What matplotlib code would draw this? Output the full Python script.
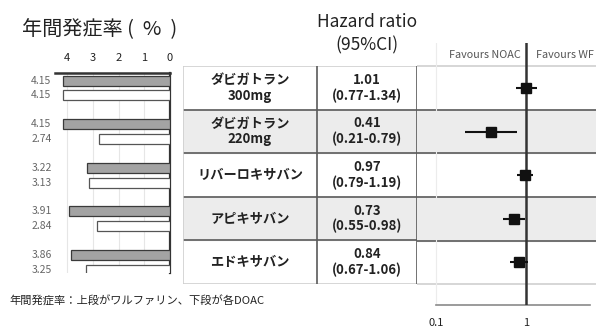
import matplotlib
matplotlib.use("Agg")
import matplotlib.pyplot as plt
import numpy as np

plt.rcParams['font.family'] = ['Noto Sans CJK JP', 'DejaVu Sans']

# 年間発症率 (%) : 上段ワルファリン, 下段DOAC
warfarin_rate = [4.15, 4.15, 3.22, 3.91, 3.86]
doac_rate = [4.15, 2.74, 3.13, 2.84, 3.25]
rate_ticks = [4, 3, 2, 1, 0]

drugs = ["ダビガトラン\n300mg", "ダビガトラン\n220mg", "リバーロキサバン",
         "アピキサバン", "エドキサバン"]
hr = [1.01, 0.41, 0.97, 0.73, 0.84]
hr_lo = [0.77, 0.21, 0.79, 0.55, 0.67]
hr_hi = [1.34, 0.79, 1.19, 0.98, 1.06]

W, H = 596, 330
fig = plt.figure(figsize=(W / 100, H / 100), dpi=100)


def px_axes(x0, y0, x1, y1):
    return fig.add_axes([x0 / W, 1 - y1 / H, (x1 - x0) / W, (y1 - y0) / H])


def row_of(ypx):
    # pixel row -> table row coordinate (row centres at 0..4)
    return (ypx - 88) / 43.6


rows = np.arange(len(drugs))
shade = '#ececec'
dark = '#5a5a5a'
light = '#cfcfcf'

# --- left: annual event rate bars ---
ax_b = px_axes(55, 73, 170, 273)
ax_b.barh(rows - 0.17, warfarin_rate, height=0.23, color='#a3a3a3',
          edgecolor='#3a3a3a', linewidth=0.9, zorder=3)
ax_b.barh(rows + 0.17, doac_rate, height=0.23, color='white',
          edgecolor='#555555', linewidth=0.9, zorder=3)
ax_b.set_xlim(115 / 25.75, 0)
ax_b.set_ylim(row_of(273), row_of(73))
ax_b.xaxis.tick_top()
ax_b.set_xticks(rate_ticks)
ax_b.set_xticklabels([str(t) for t in rate_ticks], fontsize=8, color='#222222')
ax_b.tick_params(axis='x', length=0, pad=7)
ax_b.set_yticks([])
ax_b.grid(axis='x', color='#e6e6e6', linewidth=0.8, zorder=0)
for s in ('left', 'bottom'):
    ax_b.spines[s].set_visible(False)
ax_b.spines['top'].set_linewidth(1.8)
ax_b.spines['top'].set_color('#333333')
ax_b.spines['right'].set_linewidth(1.6)
ax_b.spines['right'].set_color('#333333')
for i in rows:
    ax_b.text(-0.03, i - 0.17, f"{warfarin_rate[i]:.2f}", transform=ax_b.get_yaxis_transform(),
              ha='right', va='center', fontsize=7.5, color='#666666')
    ax_b.text(-0.03, i + 0.17, f"{doac_rate[i]:.2f}", transform=ax_b.get_yaxis_transform(),
              ha='right', va='center', fontsize=7.5, color='#666666')

# --- middle: table of drug names and HR (95%CI) ---
ax_t = px_axes(183, 66, 417, 284)
ax_t.set_xlim(0, 1)
ax_t.set_ylim(4.5, -0.5)
ax_t.axis('off')
split = (317 - 183) / (417 - 183)
for i in (1, 3):
    ax_t.axhspan(i - 0.5, i + 0.5, color=shade, zorder=0)
for y in (0.5, 1.5, 2.5, 3.5):
    ax_t.axhline(y, color=dark, linewidth=1.2)
ax_t.axhline(-0.5, color=light, linewidth=1.2)
ax_t.axhline(4.5, color=light, linewidth=1.2)
ax_t.axvline(0, color=light, linewidth=1.2)
ax_t.axvline(split, color=dark, linewidth=1.2)
ax_t.axvline(1, color=dark, linewidth=1.2)
for i in rows:
    ax_t.text(split / 2, i, drugs[i], ha='center', va='center', fontsize=9.5,
              fontweight='bold', color='#222222', linespacing=1.15)
    ax_t.text((split + 1) / 2, i, f"{hr[i]:.2f}\n({hr_lo[i]:.2f}-{hr_hi[i]:.2f})",
              ha='center', va='center', fontsize=9.5, fontweight='bold',
              color='#222222', linespacing=1.15)

# --- right: forest plot on log scale ---
ax_f = px_axes(417, 43, 596, 305)
ax_f.set_xscale('log')
ax_f.set_xlim(10 ** (-109 / 90), 10 ** (70 / 90))
ax_f.set_ylim(row_of(305), row_of(43))
for i in (1, 3):
    ax_f.axhspan(i - 0.5, i + 0.5, color=shade, zorder=0)
for y in (0.5, 1.5, 2.5, 3.5):
    ax_f.axhline(y, color=dark, linewidth=1.2)
ax_f.axhline(-0.5, color=light, linewidth=1.2)
ax_f.axhline(4.5, color=light, linewidth=1.2)
ax_f.axvline(0.1, color='#ececec', linewidth=0.8)
ax_f.axvline(1, color='#333333', linewidth=1.8, zorder=4)
ax_f.hlines(rows, hr_lo, hr_hi, color='#111111', linewidth=1.5, zorder=5)
ax_f.plot(hr, rows, 's', color='#111111', markersize=7, zorder=6)
for s in ('left', 'right', 'top'):
    ax_f.spines[s].set_visible(False)
ax_f.spines['bottom'].set_bounds(0.1, 5.1)
ax_f.spines['bottom'].set_color('#8a8a8a')
ax_f.spines['bottom'].set_linewidth(1.2)
ax_f.set_xticks([0.1, 1])
ax_f.set_xticklabels(['0.1', '1'], fontsize=8, color='#222222')
ax_f.xaxis.set_tick_params(which='both', length=0, pad=9)
ax_f.xaxis.set_tick_params(which='minor', labelbottom=False)
ax_f.set_yticks([])
ax_f.text(0.35, row_of(55), "Favours NOAC", transform=ax_f.transData,
          ha='center', va='center', fontsize=7.8, color='#555555')
ax_f.text(1.28, row_of(55), "Favours WF", transform=ax_f.transData,
          ha='left', va='center', fontsize=7.8, color='#555555')

# --- headings and note ---
fig.text(22 / W, 1 - 30 / H, "年間発症率 (  %  )", ha='left', va='center',
         fontsize=14.5, color='#222222')
fig.text(367 / W, 1 - 22 / H, "Hazard ratio", ha='center', va='center',
         fontsize=12.5, color='#222222')
fig.text(367 / W, 1 - 45 / H, "(95%CI)", ha='center', va='center',
         fontsize=12.5, color='#222222')
fig.text(9 / W, 1 - 301 / H, "年間発症率：上段がワルファリン、下段が各DOAC",
         ha='left', va='center', fontsize=8.1, color='#222222')

fig.savefig('out.png', dpi=100)
